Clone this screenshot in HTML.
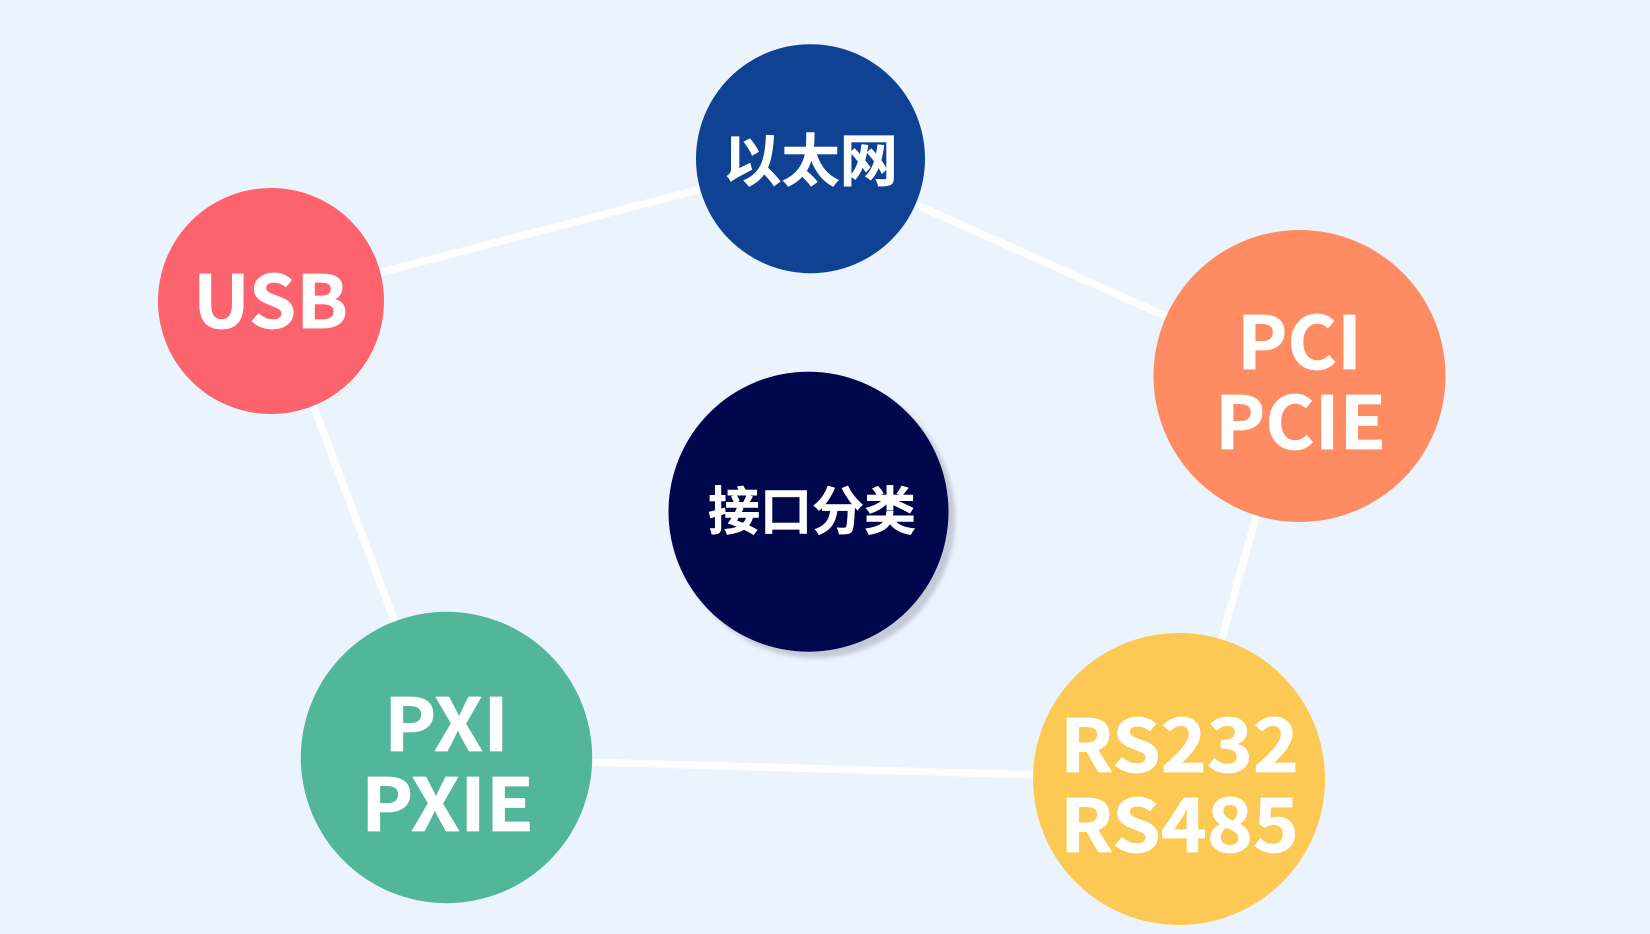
<!DOCTYPE html>
<html lang="zh">
<head>
<meta charset="utf-8">
<title>接口分类</title>
<style>
html,body{margin:0;padding:0;width:1650px;height:934px;overflow:hidden;background:#ebf3fd}
svg{display:block}
text{fill:#fff;stroke:#fff;stroke-linejoin:round;font-family:"Liberation Sans","Noto Sans CJK SC",sans-serif;font-weight:700}
.l{font-family:"Noto Sans CJK SC","Liberation Sans",sans-serif;font-size:73px;stroke-width:.7}
.c{font-family:"Noto Sans CJK SC",sans-serif;stroke-width:.5}
</style>
</head>
<body>
<svg width="1650" height="934" viewBox="0 0 1650 934" xmlns="http://www.w3.org/2000/svg">
<defs><filter id="b" x="-10%" y="-10%" width="120%" height="120%"><feGaussianBlur stdDeviation="2"/></filter></defs>
<rect width="1650" height="934" fill="#ebf3fd"/>
<g stroke="#fdfeff" stroke-width="7.5" fill="none">
<line x1="375" y1="274" x2="705" y2="188"/>
<line x1="910" y1="202" x2="1170" y2="318"/>
<line x1="1258" y1="510" x2="1220" y2="645"/>
<line x1="1040" y1="775" x2="585" y2="762"/>
<line x1="313" y1="405" x2="395" y2="622"/>
</g>
<circle cx="815" cy="518" r="140" fill="#c3c9d6" filter="url(#b)"/>
<circle cx="808.5" cy="511.7" r="140" fill="#01074c"/>
<circle cx="810.5" cy="158.7" r="114.5" fill="#104293"/>
<circle cx="271" cy="301" r="113" fill="#fd636c"/>
<circle cx="1299.5" cy="376" r="146" fill="#ff8b62"/>
<circle cx="446.5" cy="757.5" r="145.7" fill="#52b79a"/>
<circle cx="1179" cy="779" r="146" fill="#fdc955"/>
<text class="c" x="723" y="181" font-size="57" textLength="175" lengthAdjust="spacingAndGlyphs">以太网</text>
<text class="c" x="708" y="530" font-size="52" textLength="208" lengthAdjust="spacing">接口分类</text>
<text class="l" x="193" y="328" textLength="155" lengthAdjust="spacingAndGlyphs">USB</text>
<text class="l" x="1237" y="369" textLength="125" lengthAdjust="spacingAndGlyphs">PCI</text>
<text class="l" x="1215" y="449" textLength="171" lengthAdjust="spacingAndGlyphs">PCIE</text>
<text class="l" x="384" y="751" textLength="125" lengthAdjust="spacingAndGlyphs">PXI</text>
<text class="l" x="361" y="831" textLength="173" lengthAdjust="spacingAndGlyphs">PXIE</text>
<text class="l" x="1060" y="772" textLength="239" lengthAdjust="spacingAndGlyphs">RS232</text>
<text class="l" x="1060" y="852" textLength="239" lengthAdjust="spacingAndGlyphs">RS485</text>
</svg>
</body>
</html>
